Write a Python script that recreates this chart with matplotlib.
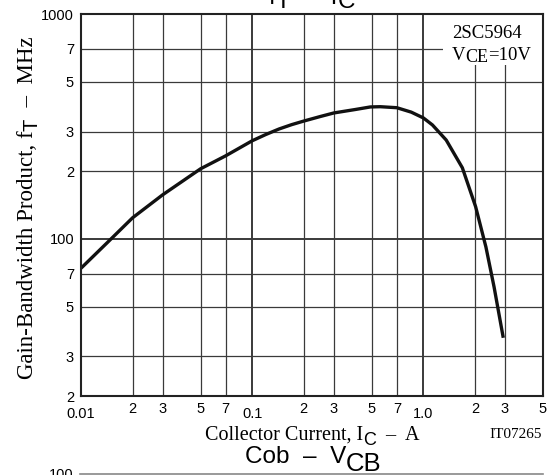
import matplotlib
matplotlib.use("Agg")
import matplotlib.pyplot as plt
from matplotlib.patches import Rectangle

plt.rcParams['font.family'] = 'Liberation Sans'

# fT - IC curve
ic = [0.01, 0.0142, 0.02, 0.03, 0.05, 0.07, 0.1, 0.12, 0.1435, 0.17, 0.2, 0.25, 0.3, 0.4,
      0.49, 0.56, 0.7, 0.85, 1.0, 1.13, 1.36, 1.69, 2.02, 2.32, 2.59, 2.93]
ft = [74, 96, 124, 157, 205, 234, 273, 291, 308, 322, 334, 350, 363, 376,
      386, 387, 383, 366, 345, 321, 275, 207, 139, 92, 61, 36.3]

x_major = [0.01, 0.1, 1.0]
x_major_labels = ['0.01', '0.1', '1.0']
x_minor = [0.02, 0.03, 0.05, 0.07, 0.2, 0.3, 0.5, 0.7, 2, 3, 5]
x_minor_labels = ['2', '3', '5', '7', '2', '3', '5', '7', '2', '3', '5']
y_ticks = [20, 30, 50, 70, 100, 200, 300, 500, 700, 1000]
y_labels = ['2', '3', '5', '7', '100', '2', '3', '5', '7', '1000']

W, H = 550, 475
SERIF = 'Liberation Serif'
SANS = 'Liberation Sans'

fig = plt.figure(figsize=(5.5, 4.75), dpi=100)
renderer = fig.canvas.get_renderer()


def text_width(s, fam, size):
    # width incl. spaces: measure with a bar on both sides
    t = fig.text(0, 0, '|' + s + '|', family=fam, fontsize=size)
    b = fig.text(0, 0, '||', family=fam, fontsize=size)
    w = t.get_window_extent(renderer).width - b.get_window_extent(renderer).width
    t.remove()
    b.remove()
    return w


def rich_text(x, y, pieces, rotation=0, ha='center'):
    # x, y in pixels from top-left; pieces = (text, family, size, drop in px)
    widths = [text_width(s, f, z) for s, f, z, d in pieces]
    total = sum(widths)
    pos = {'center': -total / 2, 'right': -total, 'left': 0}[ha]
    for (s, f, z, d), w in zip(pieces, widths):
        if rotation == 90:
            px, py = x + d, y - pos
        else:
            px, py = x + pos, y + d
        fig.text(px / W, 1 - py / H, s, family=f, fontsize=z, rotation=rotation,
                 rotation_mode='anchor', ha='left', va='baseline')
        pos += w


ax = fig.add_axes([81 / W, 1 - 396 / H, 462 / W, 382 / H])
ax.set_xscale('log')
ax.set_yscale('log')
ax.set_xlim(0.01, 5)
ax.set_ylim(20, 1000)

for x in x_major + x_minor:
    ax.axvline(x, color='#3a3a3a', lw=1.4 if x in x_major else 0.9, zorder=1)
for y in y_ticks:
    ax.axhline(y, color='#3a3a3a', lw=1.4 if y in (100, 1000) else 0.9, zorder=1)

# white box behind the device label
ax.add_patch(Rectangle(((443 - 81) / 462, (396 - 65) / 382), (542 - 443) / 462, (65 - 15) / 382,
                       transform=ax.transAxes, facecolor='white', edgecolor='none', zorder=2))

ax.plot(ic, ft, color='#111111', lw=2.4, zorder=3, solid_capstyle='butt')

ax.set_xticks(x_major)
ax.set_xticklabels(x_major_labels, fontsize=10.5)
ax.set_xticks(x_minor, minor=True)
ax.set_xticklabels(x_minor_labels, minor=True, fontsize=10.5)
ax.tick_params(axis='x', which='major', length=0, pad=8)
ax.tick_params(axis='x', which='minor', length=0, pad=4.5)
ax.set_yticks(y_ticks)
ax.set_yticklabels(y_labels, fontsize=10.5)
ax.yaxis.set_minor_locator(matplotlib.ticker.NullLocator())
ax.tick_params(axis='y', which='both', length=0, pad=5)

for s in ax.spines.values():
    s.set_linewidth(1.5)
    s.set_color('#222222')
    s.set_zorder(4)

# axis labels with datasheet-style subscripts
rich_text(312, 440, [('Collector Current, I', SERIF, 14.5, 0), ('C', SANS, 13, 5),
                     ('  –  A', SERIF, 14.5, 0)])
rich_text(33, 208, [('Gain-Bandwidth Product, f', SERIF, 16.5, 0), ('T', SANS, 14.5, 5),
                    ('  –  MHz', SERIF, 16.5, 0)], rotation=90)

# device label
rich_text(452, 38, [('2SC5964', SERIF, 13.5, 0)], ha='left')
rich_text(452, 60, [('V', SERIF, 13.5, 0), ('CE', SERIF, 13, 1.5), ('=10V', SERIF, 13.5, 0)],
          ha='left')

rich_text(542, 438, [('IT07265', SERIF, 11, 0)], ha='right')

# titles (partially cut off, as in the datasheet crop)
rich_text(312, 4.5, [('f', SANS, 17.5, 0), ('T', SANS, 17.5, 3.5), ('  –  I', SANS, 17.5, 0),
                     ('C', SANS, 17.5, 3.5)])
rich_text(313, 463, [('Cob  –  V', SANS, 17.5, 0), ('CB', SANS, 18.5, 8)])

# top of the next chart
fig.add_artist(plt.Line2D([80 / W, 543 / W], [1.2 / H, 1.2 / H], color='#888888', lw=1.2))
fig.text(73 / W, 0, '100', ha='right', va='center', fontsize=10.5)

fig.savefig('out.png', dpi=100)
